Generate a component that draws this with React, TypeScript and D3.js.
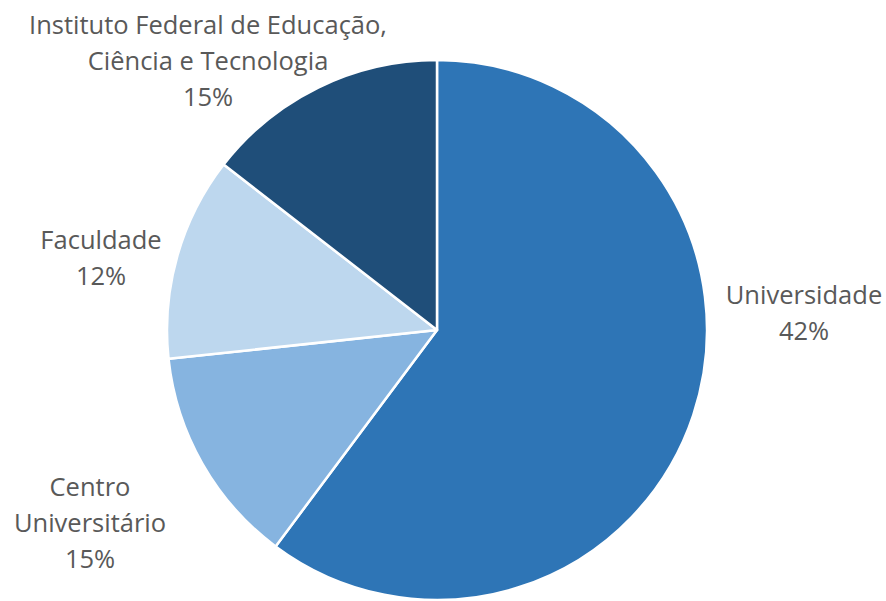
import React, { useEffect, useRef } from 'react';
import * as d3 from 'd3';

const categories = [
  'Universidade',
  'Centro Universitário',
  'Faculdade',
  'Instituto Federal de Educação, Ciência e Tecnologia',
];
const sliceValues = [60.2, 13.1, 12.2, 14.5];
const labelLines = [
  ['Universidade', '42%'],
  ['Centro', 'Universitário', '15%'],
  ['Faculdade', '12%'],
  ['Instituto Federal de Educação,', 'Ciência e Tecnologia', '15%'],
];
const colors = ['#2E75B6', '#86B4E0', '#BDD7EE', '#1F4E79'];

const width = 886;
const height = 601;

const App: React.FC = () => {
  const svgRef = useRef<SVGSVGElement>(null);

  useEffect(() => {
    if (!svgRef.current) return;
    const svg = d3.select(svgRef.current);
    svg.selectAll('*').remove();

    const cx = 437;
    const cy = 330;
    const radius = 270;

    const pie = d3.pie<number>().sort(null).value(d => d);
    const arcs = pie(sliceValues);
    const arc = d3.arc<d3.PieArcDatum<number>>().innerRadius(0).outerRadius(radius);

    const g = svg.append('g').attr('transform', `translate(${cx},${cy})`);

    g.selectAll('path')
      .data(arcs)
      .enter()
      .append('path')
      .attr('d', arc)
      .attr('fill', (_, i) => colors[i])
      .attr('stroke', '#fff')
      .attr('stroke-width', 2.5)
      .attr('stroke-linejoin', 'round')
      .append('title')
      .text((_, i) => categories[i]);

    // label centres relative to pie centre (Excel best-fit placement)
    const labelPos: [number, number][] = [
      [367, -17],
      [-347, 193],
      [-336, -72],
      [-229, -269],
    ];
    const lineHeight = 36;

    labelLines.forEach((lines, i) => {
      const [lx, ly] = labelPos[i];
      const top = ly - ((lines.length - 1) * lineHeight) / 2;
      const t = g.append('text')
        .attr('text-anchor', 'middle')
        .attr('font-family', '"Open Sans", sans-serif')
        .attr('font-size', 25.5)
        .attr('fill', '#595959');
      lines.forEach((line, j) => {
        t.append('tspan')
          .attr('x', lx)
          .attr('y', top + j * lineHeight)
          .attr('dy', '0.35em')
          .text(line);
      });
    });
  }, []);

  return (
    <svg
      ref={svgRef}
      width={width}
      height={height}
      style={{ position: 'absolute', left: 0, top: 0, background: '#fff' }}
    />
  );
};

export default App;
